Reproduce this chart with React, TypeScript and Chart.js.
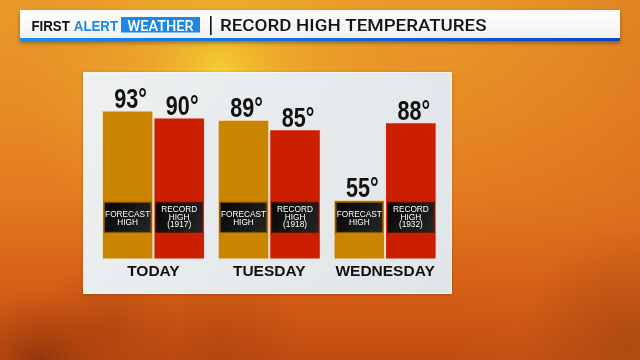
import React, { useEffect, useRef } from "react";
import { Chart, registerables } from "chart.js";

Chart.register(...registerables);

const days = ["TODAY", "TUESDAY", "WEDNESDAY"];
const forecastHigh = [93, 89, 55];
const recordHigh = [90, 85, 88];
const recordYears = ["1917", "1918", "1932"];
const yMin = 30;
const yMax = 100;
const titleText = "RECORD HIGH TEMPERATURES";

const forecastColor = "#CA8500";
const recordColor = "#CC1E00";

function scaledText(ctx: CanvasRenderingContext2D, text: string, x: number, y: number, sx: number) {
  ctx.save();
  ctx.translate(x, y);
  ctx.scale(sx, 1);
  ctx.fillText(text, 0, 0);
  ctx.restore();
}

function fitText(ctx: CanvasRenderingContext2D, text: string, x: number, y: number, width: number) {
  const w = ctx.measureText(text).width;
  ctx.save();
  ctx.textAlign = "left";
  scaledText(ctx, text, x, y, width / w);
  ctx.restore();
}

const backdropPlugin = {
  id: "backdrop",
  beforeDraw(chart: any) {
    const ctx: CanvasRenderingContext2D = chart.ctx;
    const W = chart.width;
    const H = chart.height;
    ctx.save();
    let g = ctx.createLinearGradient(0, 0, 0, H);
    g.addColorStop(0, "#E99A2A");
    g.addColorStop(0.3, "#E78C25");
    g.addColorStop(0.55, "#E37A20");
    g.addColorStop(0.8, "#D65E16");
    g.addColorStop(1, "#C04C10");
    ctx.fillStyle = g;
    ctx.fillRect(0, 0, W, H);
    g = ctx.createLinearGradient(0, 0, W, 0);
    g.addColorStop(0, "rgba(230,140,40,0)");
    g.addColorStop(0.7, "rgba(220,110,30,0)");
    g.addColorStop(1, "rgba(212,100,25,0.4)");
    ctx.fillStyle = g;
    ctx.fillRect(0, 0, W, H);
    let r = ctx.createRadialGradient(220, 72, 0, 220, 72, 200);
    r.addColorStop(0, "rgba(245,212,50,0.9)");
    r.addColorStop(0.35, "rgba(240,185,45,0.5)");
    r.addColorStop(1, "rgba(235,160,40,0)");
    ctx.fillStyle = r;
    ctx.fillRect(0, 0, W, H);
    const blobs = [
      [40, 360, 70, "rgba(90,28,5,0.45)"],
      [110, 330, 70, "rgba(130,42,8,0.3)"],
      [220, 345, 80, "rgba(150,50,10,0.25)"],
      [630, 340, 110, "rgba(130,55,10,0.4)"],
    ] as [number, number, number, string][];
    for (const [x, y, rad, c] of blobs) {
      r = ctx.createRadialGradient(x, y, 0, x, y, rad);
      r.addColorStop(0, c);
      r.addColorStop(1, "rgba(130,45,10,0)");
      ctx.fillStyle = r;
      ctx.fillRect(0, 0, W, H);
    }

    // header
    ctx.save();
    ctx.shadowColor = "rgba(0,0,0,0.35)";
    ctx.shadowBlur = 4;
    ctx.shadowOffsetY = 2;
    ctx.fillStyle = "#FFFFFF";
    ctx.fillRect(20, 10, 600, 31);
    ctx.restore();
    g = ctx.createLinearGradient(0, 10, 0, 38);
    g.addColorStop(0, "#FFFFFF");
    g.addColorStop(1, "#F1F1F1");
    ctx.fillStyle = g;
    ctx.fillRect(20, 10, 600, 28);
    g = ctx.createLinearGradient(20, 0, 620, 0);
    g.addColorStop(0, "#1C8DEB");
    g.addColorStop(1, "#0C46BE");
    ctx.fillStyle = g;
    ctx.fillRect(20, 38, 600, 3);

    ctx.textBaseline = "alphabetic";
    ctx.font = "900 15px 'Liberation Sans', Arial, sans-serif";
    const wFirst = ctx.measureText("FIRST").width;
    const wAlert = ctx.measureText("ALERT").width;
    const gap = 4;
    const sx = (86.5 - gap) / (wFirst + wAlert);
    ctx.fillStyle = "#111111";
    ctx.textAlign = "left";
    scaledText(ctx, "FIRST", 31.5, 30.8, sx);
    ctx.fillStyle = "#1E88E5";
    scaledText(ctx, "ALERT", 31.5 + wFirst * sx + gap, 30.8, sx);

    ctx.fillStyle = "#1F86E2";
    ctx.fillRect(121, 17, 79, 15.5);
    ctx.fillStyle = "#FFFFFF";
    ctx.font = "500 15px Roboto, 'Liberation Sans', sans-serif";
    fitText(ctx, "WEATHER", 127.5, 30.8, 66);

    ctx.fillStyle = "#111111";
    ctx.fillRect(210, 16, 1.6, 19);

    ctx.fillStyle = "#151515";
    ctx.font = "500 16.5px Roboto, 'Open Sans', sans-serif";
    fitText(ctx, titleText, 220, 30.8, 266.5);

    // panel
    ctx.save();
    ctx.shadowColor = "rgba(80,30,0,0.35)";
    ctx.shadowBlur = 3;
    ctx.shadowOffsetY = 1;
    ctx.fillStyle = "#F4F5F5";
    ctx.fillRect(83, 72, 369, 222);
    ctx.restore();
    g = ctx.createLinearGradient(84, 73, 451, 293);
    g.addColorStop(0, "#EEF0F1");
    g.addColorStop(1, "#E0E5E8");
    ctx.fillStyle = g;
    ctx.fillRect(84, 73, 367, 220);
    ctx.restore();
  },
};

const labelPlugin = {
  id: "barLabels",
  afterDatasetsDraw(chart: any) {
    const ctx: CanvasRenderingContext2D = chart.ctx;
    const base = chart.scales.y.getPixelForValue(yMin);
    ctx.save();
    chart.data.datasets.forEach((ds: any, di: number) => {
      const meta = chart.getDatasetMeta(di);
      meta.data.forEach((bar: any, i: number) => {
        const left = bar.x - bar.width / 2;
        const right = bar.x + bar.width / 2;
        ctx.fillStyle = "#111111";
        ctx.font = "700 27px 'Liberation Sans', Arial, sans-serif";
        ctx.textAlign = "center";
        ctx.textBaseline = "alphabetic";
        scaledText(ctx, ds.data[i] + "°", bar.x + 3, bar.y - 2.5, 0.8);
        const top = base - 56.5;
        const bottom = base - 25.5;
        const bx = left + 2;
        const bw = right - left - 4;
        const g = ctx.createLinearGradient(bx, top, bx + bw, bottom);
        g.addColorStop(0, "#050505");
        g.addColorStop(1, "#262626");
        ctx.fillStyle = g;
        ctx.fillRect(bx, top, bw, bottom - top);
        ctx.strokeStyle = di === 0 ? "rgba(150,95,0,0.9)" : "rgba(140,20,0,0.6)";
        ctx.lineWidth = 1;
        ctx.strokeRect(bx + 0.5, top + 0.5, bw - 1, bottom - top - 1);
        ctx.fillStyle = "#FFFFFF";
        ctx.font = "400 9px 'Liberation Sans', Arial, sans-serif";
        ctx.textBaseline = "middle";
        const lines = di === 0 ? ["FORECAST", "HIGH"] : ["RECORD", "HIGH", "(" + recordYears[i] + ")"];
        const ys = di === 0 ? [214.3, 222.3] : [209, 216.7, 224.3];
        lines.forEach((t, k) => {
          const w = ctx.measureText(t).width;
          const s = Math.min(0.92, (bw - 1.5) / w);
          scaledText(ctx, t, bar.x, base - 258 + ys[k], s);
        });
      });
    });
    ctx.restore();
  },
};

export default function App() {
  const ref = useRef<HTMLCanvasElement | null>(null);
  useEffect(() => {
    if (!ref.current) return;
    const chart = new Chart(ref.current, {
      type: "bar",
      data: {
        labels: days,
        datasets: [
          {
            label: "Forecast High",
            data: forecastHigh,
            backgroundColor: forecastColor,
            borderColor: "rgba(255,235,200,0.7)",
            borderWidth: 1,
            barPercentage: 1,
            categoryPercentage: 0.89,
          },
          {
            label: "Record High",
            data: recordHigh,
            backgroundColor: recordColor,
            borderColor: "rgba(255,215,200,0.7)",
            borderWidth: 1,
            barPercentage: 1,
            categoryPercentage: 0.89,
          },
        ],
      },
      options: {
        responsive: false,
        animation: false,
        layout: { padding: { left: 95.5, right: 197, top: 94, bottom: 75 } },
        plugins: {
          legend: { display: false },
          tooltip: { enabled: false },
          title: { display: false },
        },
        scales: {
          x: {
            grid: { display: false, drawTicks: false },
            border: { display: false },
            ticks: {
              color: "#111111",
              padding: 4,
              font: { family: "'Liberation Sans', Arial, sans-serif", size: 15.5, weight: "bold" },
            },
          },
          y: {
            display: false,
            min: yMin,
            max: yMax,
          },
        },
      },
      plugins: [backdropPlugin, labelPlugin],
    });
    return () => chart.destroy();
  }, []);
  return (
    <div style={{ position: "fixed", left: 0, top: 0, width: 640, height: 360 }}>
      <canvas ref={ref} width={640} height={360} style={{ display: "block" }} />
    </div>
  );
}
